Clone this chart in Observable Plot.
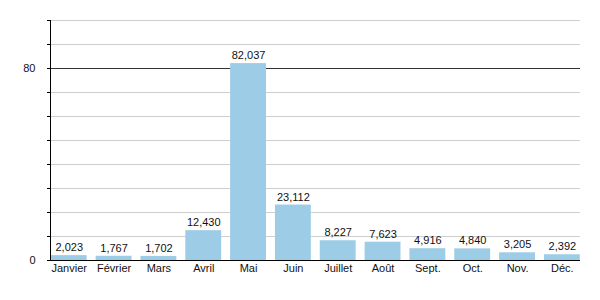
<!DOCTYPE html>
<html>
<head>
<meta charset="utf-8">
<script src="https://cdn.jsdelivr.net/npm/d3@7"></script>
<script src="https://cdn.jsdelivr.net/npm/@observablehq/plot@0.6"></script>
<style>
  html, body { margin: 0; padding: 0; background: #fff; }
  #chart svg { display: block; }
</style>
</head>
<body>
<div id="chart"></div>
<script>
const months = ["Janvier", "Février", "Mars", "Avril", "Mai", "Juin", "Juillet", "Août", "Sept.", "Oct.", "Nov.", "Déc."];
const values = [2023, 1767, 1702, 12430, 82037, 23112, 8227, 7623, 4916, 4840, 3205, 2392];
const yTicks = [0, 10, 20, 30, 40, 50, 60, 70, 80, 90, 100];
const yLabelled = [0, 80];

const data = months.map((m, i) => ({month: m, value: values[i], k: values[i] / 1000}));
const fmt = d3.format(",");

const chart = Plot.plot({
  width: 600,
  height: 300,
  marginTop: 20,
  marginBottom: 40,
  marginLeft: 50,
  marginRight: 20,
  style: {fontFamily: "'Liberation Sans', Arial, sans-serif", fontSize: "11px", color: "#111", background: "#fff"},
  x: {domain: months, paddingInner: 0.2, paddingOuter: 0, round: false, range: [50.8, 579.8], label: null},
  y: {domain: [0, 100], label: null},
  marks: [
    Plot.ruleY(yTicks.filter(d => d > 0 && d !== 80), {stroke: "#cfcfcf", strokeWidth: 1}),
    Plot.ruleY([80], {stroke: "#333", strokeWidth: 1}),
    Plot.barY(data, {x: "month", y: "k", fill: "#9dcce6"}),
    Plot.text(data, {x: "month", y: "k", text: d => fmt(d.value), dy: -8, fill: "#111", fontSize: 11}),
    Plot.axisY({ticks: yTicks, tickSize: 3, tickPadding: 12, tickFormat: d => yLabelled.includes(d) ? String(d) : "", stroke: "#000", fontSize: 11}),
    Plot.axisX({tickSize: 0, tickPadding: 4, fontSize: 11}),
    Plot.frame({anchor: "left", stroke: "#000"}),
    Plot.ruleY([0], {stroke: "#000", strokeWidth: 1.2})
  ]
});
document.getElementById("chart").appendChild(chart);
</script>
</body>
</html>
